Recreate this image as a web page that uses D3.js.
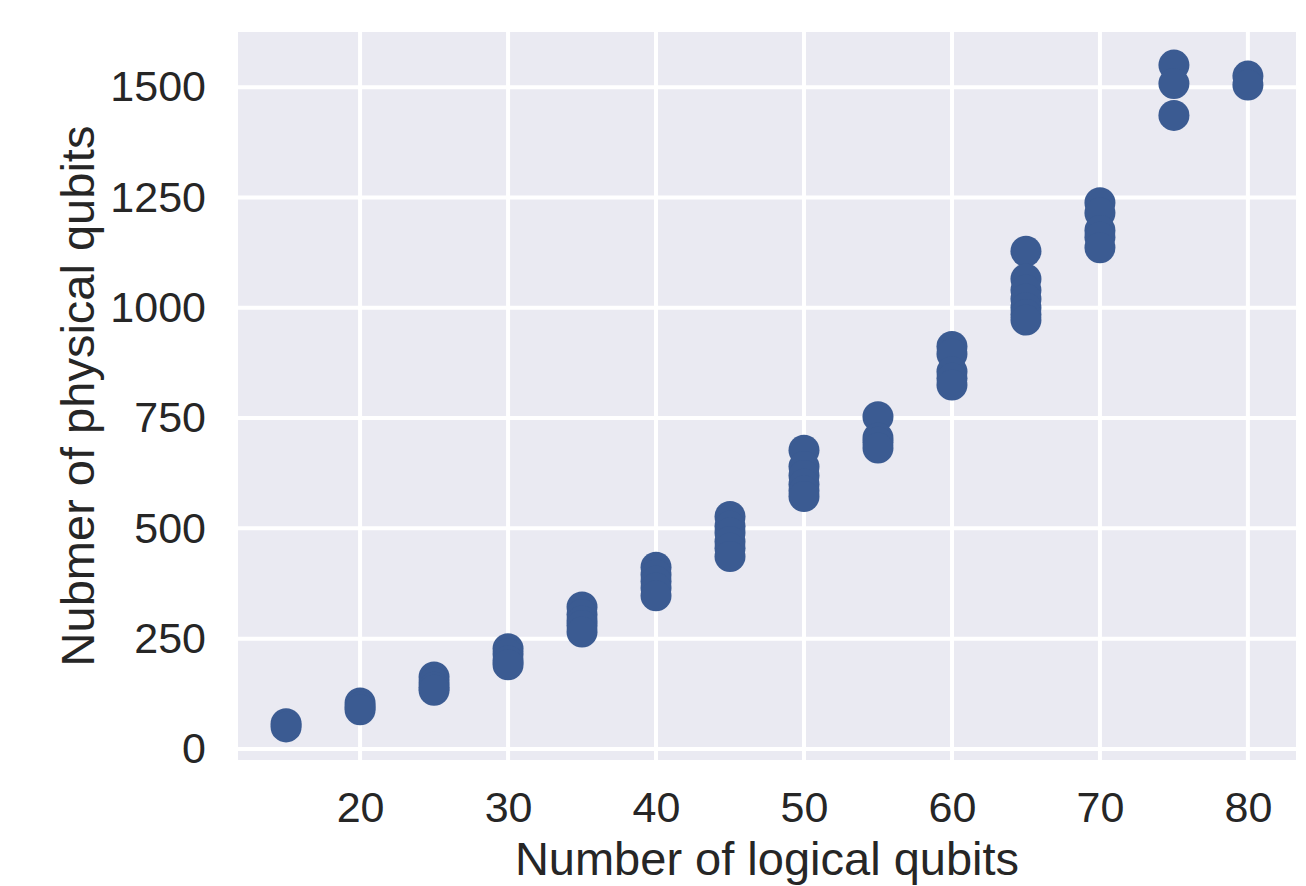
<!DOCTYPE html>
<html>
<head>
<meta charset="utf-8">
<script src="https://cdn.jsdelivr.net/npm/d3@7"></script>
<style>
  body { margin: 0; background: #fff; }
  text { font-family: "Liberation Sans", Arial, sans-serif; fill: #262626; }
</style>
</head>
<body>
<script>
// logical qubits (x) and physical qubits (y), one entry per point
var logical = [
  15, 15,
  20, 20, 20,
  25, 25, 25, 25,
  30, 30, 30, 30,
  35, 35, 35, 35, 35,
  40, 40, 40, 40, 40,
  45, 45, 45, 45, 45, 45,
  50, 50, 50, 50, 50, 50,
  55, 55, 55, 55,
  60, 60, 60, 60, 60,
  65, 65, 65, 65, 65, 65, 65,
  70, 70, 70, 70, 70,
  75, 75, 75,
  80, 80
];
var physical = [
  57, 50,
  104, 95, 89,
  163, 150, 140, 133,
  227, 215, 200, 191,
  322, 305, 290, 280, 265,
  412, 395, 380, 365, 347,
  527, 505, 490, 470, 455, 436,
  677, 640, 620, 600, 585, 572,
  753, 705, 695, 682,
  912, 895, 855, 840, 825,
  1128, 1065, 1040, 1020, 1000, 985, 972,
  1238, 1215, 1175, 1160, 1136,
  1550, 1508, 1436,
  1525, 1505
];
var xTicks = [20, 30, 40, 50, 60, 70, 80];
var yTicks = [0, 250, 500, 750, 1000, 1250, 1500];

var svgWidth = 1306, svgHeight = 886;
var margin = {top: 32, right: 10, bottom: 126, left: 238};
var width = svgWidth - margin.left - margin.right;
var height = svgHeight - margin.top - margin.bottom;

var svg = d3.select("body").append("svg")
  .attr("width", svgWidth)
  .attr("height", svgHeight);

var g = svg.append("g")
  .attr("transform", `translate(${margin.left},${margin.top})`);

// 5% padding like matplotlib autoscale
var xExt = d3.extent(logical), yExt = d3.extent(physical);
var xPad = (xExt[1] - xExt[0]) * 0.05, yPad = (yExt[1] - yExt[0]) * 0.05;

var x = d3.scaleLinear().domain([xExt[0] - xPad, xExt[1] + xPad]).range([0, width]);
var y = d3.scaleLinear().domain([yExt[0] - yPad, yExt[1] + yPad]).range([height, 0]);

g.append("rect")
  .attr("width", width)
  .attr("height", height)
  .attr("fill", "#eaeaf2");

// grid
g.selectAll(".vgrid").data(xTicks).enter().append("line")
  .attr("x1", d => x(d)).attr("x2", d => x(d))
  .attr("y1", 0).attr("y2", height)
  .attr("stroke", "#fff").attr("stroke-width", 4);
g.selectAll(".hgrid").data(yTicks).enter().append("line")
  .attr("x1", 0).attr("x2", width)
  .attr("y1", d => y(d)).attr("y2", d => y(d))
  .attr("stroke", "#fff").attr("stroke-width", 4);

// axes (no ticks, no domain line)
var xAxis = g.append("g")
  .attr("transform", `translate(0,${height})`)
  .call(d3.axisBottom(x).tickValues(xTicks).tickFormat(d3.format("d")).tickSize(0).tickPadding(31));
var yAxis = g.append("g")
  .call(d3.axisLeft(y).tickValues(yTicks).tickFormat(d3.format("d")).tickSize(0).tickPadding(32));
[xAxis, yAxis].forEach(function(a) {
  a.select(".domain").remove();
  a.selectAll("text")
    .attr("font-family", "Liberation Sans, Arial, sans-serif")
    .attr("font-size", "43px")
    .attr("fill", "#262626");
});

// points
g.selectAll("circle").data(logical).enter().append("circle")
  .attr("cx", d => x(d))
  .attr("cy", (d, i) => y(physical[i]))
  .attr("r", 15.5)
  .attr("fill", "#3b5b92");

// labels
svg.append("text")
  .attr("x", margin.left + width / 2)
  .attr("y", 875)
  .attr("text-anchor", "middle")
  .attr("font-size", "47px")
  .text("Number of logical qubits");

svg.append("text")
  .attr("transform", `translate(94,${margin.top + height / 2}) rotate(-90)`)
  .attr("text-anchor", "middle")
  .attr("font-size", "47px")
  .text("Nubmer of physical qubits");
</script>
</body>
</html>
